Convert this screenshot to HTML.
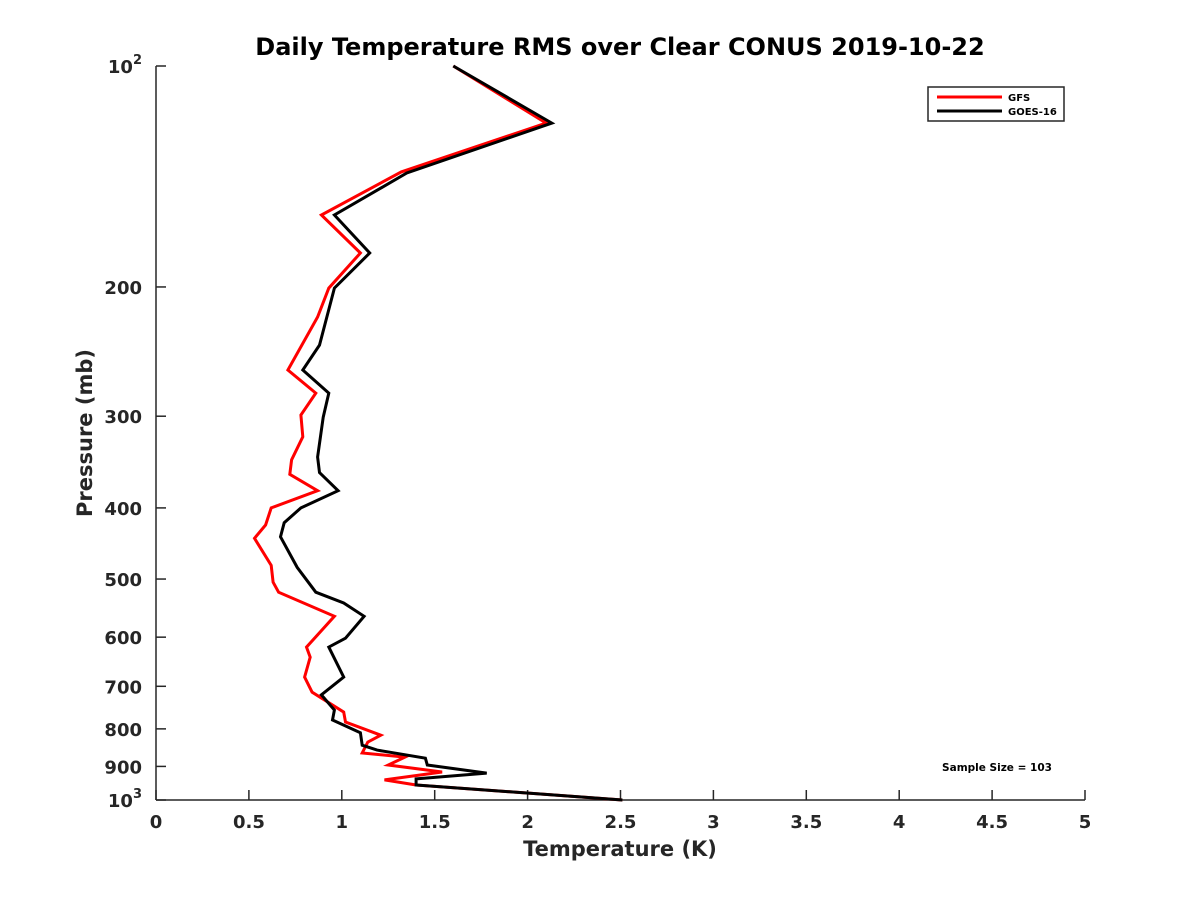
<!DOCTYPE html>
<html><head><meta charset="utf-8"><style>
body{margin:0;background:#fff;}
svg{display:block;font-family:"DejaVu Sans","Liberation Sans",sans-serif;}
</style></head><body>
<svg id="chart" width="1200" height="900" viewBox="0 0 1200 900"></svg>
<script>
const xTicks=[0,0.5,1,1.5,2,2.5,3,3.5,4,4.5,5];
const xTickLabels=["0","0.5","1","1.5","2","2.5","3","3.5","4","4.5","5"];
const yTicks=[100,200,300,400,500,600,700,800,900,1000];
const yTickLabels=["10^2","200","300","400","500","600","700","800","900","10^3"];
const gfsP=[100,119.6,139.4,159.6,179.8,200.7,219.8,259.5,279,298.9,320,344,360,379,400,422,440,479,505,521,562,619,639,680,713,759,783,816,834,863,874,896,916,939,954,1000];
const gfsT=[1.60,2.10,1.32,0.89,1.10,0.93,0.87,0.71,0.86,0.78,0.79,0.73,0.72,0.87,0.62,0.59,0.53,0.62,0.63,0.66,0.96,0.81,0.83,0.80,0.84,1.01,1.02,1.21,1.14,1.11,1.34,1.25,1.54,1.23,1.40,2.51];
const goesP=[100,119.6,139.9,159.6,179.8,200.7,240,259.5,279,301,341,358,379,400,419,438,482,521,539,562,602,619,680,719,754,778,810,842,855,877,896,919,936,954,1000];
const goesT=[1.60,2.13,1.35,0.96,1.15,0.96,0.88,0.79,0.93,0.90,0.87,0.88,0.98,0.78,0.69,0.67,0.76,0.86,1.01,1.12,1.02,0.93,1.01,0.89,0.96,0.95,1.10,1.11,1.19,1.45,1.46,1.78,1.40,1.40,2.51];

const L=156,R=1085,T=66,B=800;
const xs=v=>L+(v-0)/(5-0)*(R-L);
const ys=p=>T+(Math.log10(p)-2)*(B-T);
const NS="http://www.w3.org/2000/svg";
const svg=document.getElementById('chart');
function mk(tag,attrs,parent){const e=document.createElementNS(NS,tag);for(const k in attrs)e.setAttribute(k,attrs[k]);(parent||svg).appendChild(e);return e;}

const gAx=mk('g',{});


const xl=mk('line',{x1:L,y1:B,x2:R,y2:B,stroke:'#262626','stroke-width':1.5},gAx);


const yl=mk('line',{x1:L,y1:T,x2:L,y2:B,stroke:'#262626','stroke-width':1.5},gAx);



xTicks.forEach((v,i)=>{
  const x=xs(v);
  const t=mk('line',{x1:x,y1:B,x2:x,y2:B-10,stroke:'#262626','stroke-width':1.5},gAx);
  
  
  const tx=mk('text',{x:x,y:B+28,'text-anchor':'middle','font-size':18,'font-weight':'bold',fill:'#262626'},gAx);
  tx.textContent=xTickLabels[i];
  
  
});
yTicks.forEach((v,i)=>{
  const y=ys(v);
  const t=mk('line',{x1:L,y1:y,x2:L+10,y2:y,stroke:'#262626','stroke-width':1.5},gAx);
  
  
  const tx=mk('text',{x:L-14,y:y+7,'text-anchor':'end','font-size':18,'font-weight':'bold',fill:'#262626'},gAx);
  const lab=yTickLabels[i];
  if(lab.indexOf('^')>=0){
    const [b,e]=lab.split('^');
    tx.textContent=b;
    const s=mk('tspan',{dy:-9,'font-size':13},tx);s.textContent=e;
  } else tx.textContent=lab;
  
  
});

function series(P,Tv,color,name){
  const pts=P.map((p,i)=>xs(Tv[i]).toFixed(1)+','+ys(p).toFixed(1)).join(' ');
  const pl=mk('polyline',{points:pts,fill:'none',stroke:color,'stroke-width':3,'stroke-linejoin':'miter'});
  
  
}
series(gfsP,gfsT,'#ff0000','gfs-line');
series(goesP,goesT,'#000000','goes16-line');

const title=mk('text',{x:620,y:55,'text-anchor':'middle','font-size':24,'font-weight':'bold',fill:'#000'});
title.textContent='Daily Temperature RMS over Clear CONUS 2019-10-22';


const xt=mk('text',{x:620,y:856,'text-anchor':'middle','font-size':21,'font-weight':'bold',fill:'#262626'});
xt.textContent='Temperature (K)';


const yt=mk('text',{x:0,y:0,'text-anchor':'middle','font-size':21,'font-weight':'bold',fill:'#262626',transform:'translate(92,433) rotate(-90)'});
yt.textContent='Pressure (mb)';



const lg=mk('g',{});


mk('rect',{x:928,y:87,width:136,height:34,fill:'#fff',stroke:'#262626','stroke-width':1.5},lg);
mk('line',{x1:937,y1:97,x2:1002,y2:97,stroke:'#ff0000','stroke-width':3},lg);
mk('line',{x1:937,y1:111,x2:1002,y2:111,stroke:'#000','stroke-width':3},lg);
const l1=mk('text',{x:1008,y:101,'font-size':10,'font-weight':'bold',fill:'#000'},lg);l1.textContent='GFS';


const l2=mk('text',{x:1008,y:115,'font-size':10,'font-weight':'bold',fill:'#000'},lg);l2.textContent='GOES-16';



const ss=mk('text',{x:997,y:771,'text-anchor':'middle','font-size':10.5,'font-weight':'bold',fill:'#000'});
ss.textContent='Sample Size = 103';


</script>
</body></html>
